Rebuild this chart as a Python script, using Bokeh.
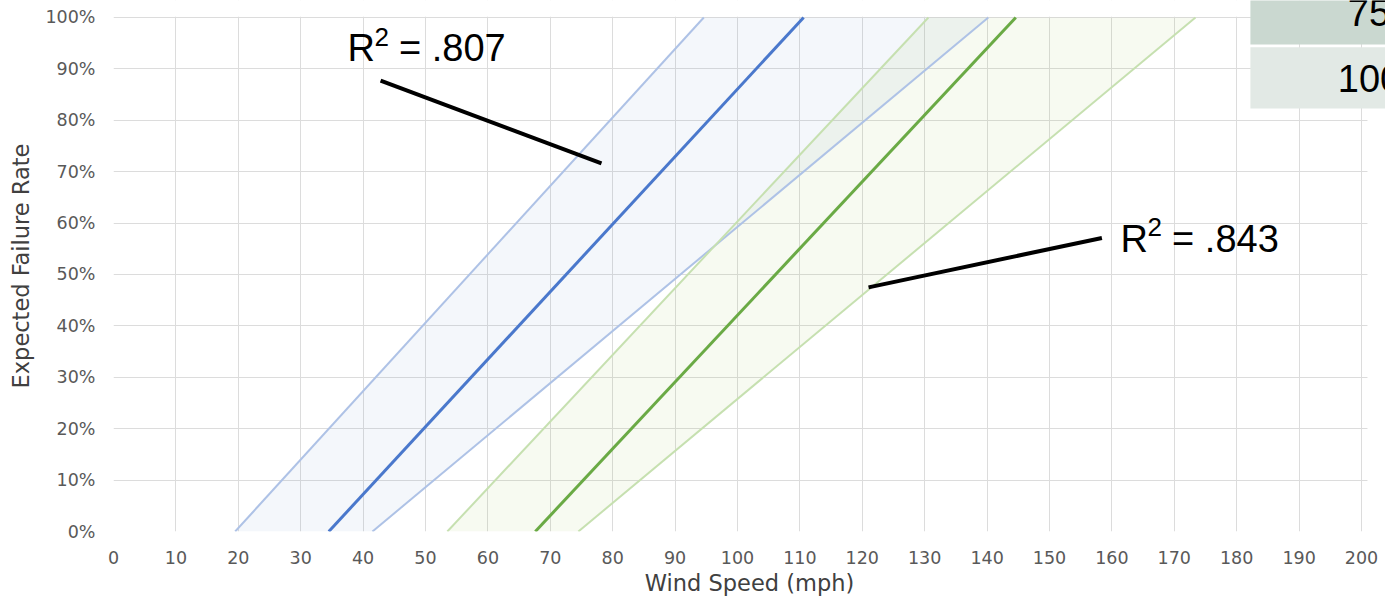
from bokeh.plotting import figure
from bokeh.models import Label, FixedTicker, PrintfTickFormatter, Range1d
from bokeh.embed import file_html
from bokeh.resources import INLINE

# ---- data (wind speed in mph at given expected failure rates) ----
failure_rate = [0, 100]
blue_lower = [19.5, 94.6]
blue_fit = [34.5, 110.6]
blue_upper = [41.5, 140.2]
green_lower = [53.5, 130.6]
green_fit = [67.6, 144.6]
green_upper = [74.5, 173.4]

x_ticks = list(range(0, 201, 10))
y_ticks = list(range(0, 101, 10))

r2_texts = [".807", ".843"]
r2_anchor_x = [37.5, 161.4]
r2_anchor_y = [91.05, 54.0]
leader_x0 = [42.8, 121.0]
leader_y0 = [87.7, 47.5]
leader_x1 = [78.2, 158.4]
leader_y1 = [71.6, 57.1]

table_values = ["75", "100"]
table_text_x = [197.8, 196.2]
table_text_y = [98.1, 85.2]
table_row_top = [106, 94.2]
table_row_bottom = [94.75, 82.3]
table_row_colors = ["#cad8d0", "#e2e9e5"]

X_VIEW_END = 203.85   # visible area extends past the last tick, to the right edge
Y_VIEW_END = 103.3    # and above 100%, so the corner table can be shown
BASE_DY = 15          # baseline correction for labels (px)

p = figure(width=1385, height=602, x_range=Range1d(0, X_VIEW_END), y_range=Range1d(0, Y_VIEW_END),
           output_backend="svg", toolbar_location=None,
           min_border_left=113, min_border_right=0, min_border_top=0, min_border_bottom=71)
p.outline_line_color = None
p.background_fill_color = "white"
p.border_fill_color = "white"

# white masks so that the grid stops at 100% and just past 200 mph
p.quad(left=[-1, 200.96], right=[X_VIEW_END + 1, X_VIEW_END + 1],
       bottom=[100.15, -1], top=[Y_VIEW_END + 1, 100.15],
       fill_color="white", line_color=None)

# bands
p.harea(y=failure_rate, x1=blue_lower, x2=blue_upper, fill_color="#5b85c8", fill_alpha=0.065)
p.harea(y=failure_rate, x1=green_lower, x2=green_upper, fill_color="#9cc24a", fill_alpha=0.08)

# lines
p.line(blue_lower, failure_rate, line_color="#aec2e6", line_width=2)
p.line(blue_upper, failure_rate, line_color="#aec2e6", line_width=2)
p.line(green_lower, failure_rate, line_color="#c6e0b0", line_width=2)
p.line(green_upper, failure_rate, line_color="#c6e0b0", line_width=2)
p.line(blue_fit, failure_rate, line_color="#4a78cc", line_width=3)
p.line(green_fit, failure_rate, line_color="#6aaa45", line_width=3)

# leader lines
p.segment(x0=leader_x0, y0=leader_y0, x1=leader_x1, y1=leader_y1, line_color="black", line_width=4)

# R^2 labels
for t, x, y in zip(r2_texts, r2_anchor_x, r2_anchor_y):
    p.add_layout(Label(x=x, y=y, y_offset=BASE_DY, text="R", text_font="Liberation Sans",
                       text_font_size="38px", text_baseline="alphabetic", text_color="black"))
    p.add_layout(Label(x=x, y=y, x_offset=27, y_offset=BASE_DY + 11.5, text="2",
                       text_font="Liberation Sans", text_font_size="26px",
                       text_baseline="alphabetic", text_color="black"))
    p.add_layout(Label(x=x, y=y, x_offset=51.5, y_offset=BASE_DY, text="= " + t,
                       text_font="Liberation Sans", text_font_size="38px",
                       text_baseline="alphabetic", text_color="black"))

# table fragment in the corner
p.quad(left=[182.2] * 2, right=[X_VIEW_END + 1] * 2, top=table_row_top, bottom=table_row_bottom,
       fill_color=table_row_colors, line_color=None)
for t, x, y in zip(table_values, table_text_x, table_text_y):
    p.add_layout(Label(x=x, y=y, y_offset=BASE_DY, text=t, text_font="Liberation Sans",
                       text_font_size="38px", text_baseline="alphabetic", text_color="black"))

# axes
p.xaxis.ticker = FixedTicker(ticks=x_ticks)
p.yaxis.ticker = FixedTicker(ticks=y_ticks)
p.yaxis.formatter = PrintfTickFormatter(format="%d%%")
for ax in (p.xaxis[0], p.yaxis[0]):
    ax.axis_line_color = None
    ax.major_tick_line_color = None
    ax.minor_tick_line_color = None
    ax.major_tick_out = 0
    ax.major_tick_in = 0
    ax.major_label_text_font = "DejaVu Sans"
    ax.major_label_text_font_size = "17.5px"
    ax.major_label_text_color = "#595959"
    ax.axis_label_text_font = "DejaVu Sans"
    ax.axis_label_text_font_size = "22.5px"
    ax.axis_label_text_font_style = "normal"
    ax.axis_label_text_color = "#404040"
p.xaxis.axis_label = "Wind Speed (mph)"
p.yaxis.axis_label = "Expected Failure Rate"
p.xaxis.major_label_standoff = 19
p.xaxis.axis_label_standoff = 3
p.yaxis.major_label_standoff = 18
p.yaxis.axis_label_standoff = 8

p.xgrid.grid_line_color = "#dcdcdc"
p.ygrid.grid_line_color = "#dcdcdc"
p.xgrid.grid_line_width = 1
p.ygrid.grid_line_width = 1

open("out.html", "w").write(file_html(p, INLINE))
